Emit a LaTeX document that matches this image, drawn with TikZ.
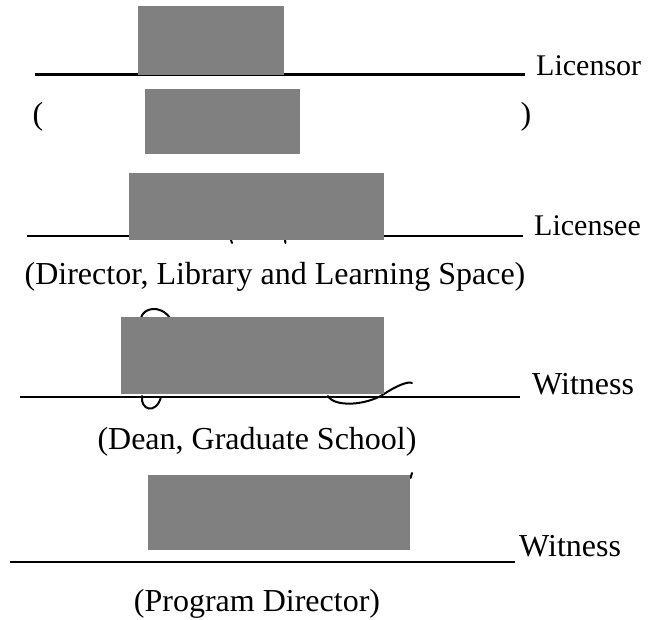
\documentclass[tikz,border=0pt]{standalone}
\usepackage{fontspec}
\setmainfont{Liberation Serif}
\usetikzlibrary{positioning, calc}

\begin{document}
\begin{tikzpicture}[
        x=1pt, y=-1pt,
        % Global Styles
        sigbox/.style={rectangle, fill=gray, draw=none, inner sep=0pt},
        rule/.style={draw, line width=2.2pt},
        role/.style={inner sep=0pt, anchor=base west, font=\fontsize{30}{34}\selectfont},
        caption/.style={inner sep=0pt, anchor=base, font=\fontsize{32}{36}\selectfont},
        scribble/.style={draw, line width=2pt, line cap=round}
    ]
    \useasboundingbox (0,0) rectangle (653,620);

    % --- Signature lines ---
    \coordinate (lineA1) at (35,74.5);   \coordinate (lineA2) at (525,74.5);
    \coordinate (lineB1) at (27,236);    \coordinate (lineB2) at (523,236);
    \coordinate (lineC1) at (20,397);    \coordinate (lineC2) at (520,397);
    \coordinate (lineD1) at (10,562);    \coordinate (lineD2) at (515,562);

    \draw [rule] (lineA1) -- (lineA2);
    \draw [rule] (lineB1) -- (lineB2);
    \draw [rule] (lineC1) -- (lineC2);
    \draw [rule] (lineD1) -- (lineD2);

    % --- Roles ---
    \node [role] (licensor) at (536,76) {Licensor};
    \node [role] (licensee) at (534,236) {Licensee};
    \node [role, font=\fontsize{32}{36}\selectfont] (witnessA) at (532,394) {Witness};
    \node [role, font=\fontsize{32}{36}\selectfont] (witnessB) at (519,556) {Witness};

    % --- Names under the lines ---
    \node [caption] (open) at (38,125) {(};
    \node [caption] (close) at (526,125) {)};
    \node [caption] (director) at (275,285) {(Director, Library and Learning Space)};
    \node [caption] (dean) at (257,449) {(Dean, Graduate School)};
    \node [caption] (program) at (257,611) {(Program Director)};

    % --- Signature traces ---
    \draw [scribble] (141,318) .. controls (143,308) and (160,304) .. (170,318);
    \draw [scribble] (142,396) .. controls (140,410) and (156,415) .. (161,397);
    \draw [scribble] (328,396) .. controls (334,407) and (365,406) .. (384,394)
        .. controls (396,386) and (408,381) .. (412,383);
    \draw [scribble] (412,473) -- (410.5,478);
    \draw [scribble] (231,240) -- (232,243);
    \draw [scribble] (285,240) -- (285.5,243);

    % --- Redacted areas ---
    \node [sigbox, minimum width=146pt, minimum height=69pt, anchor=north west] (sigA) at (138,6) {};
    \node [sigbox, minimum width=155pt, minimum height=65pt, anchor=north west] (nameA) at (145,89) {};
    \node [sigbox, minimum width=255pt, minimum height=67pt, anchor=north west] (sigB) at (129,173) {};
    \node [sigbox, minimum width=263pt, minimum height=77pt, anchor=north west] (sigC) at (121,317) {};
    \node [sigbox, minimum width=262pt, minimum height=75pt, anchor=north west] (sigD) at (148,475) {};

\end{tikzpicture}
\end{document}
